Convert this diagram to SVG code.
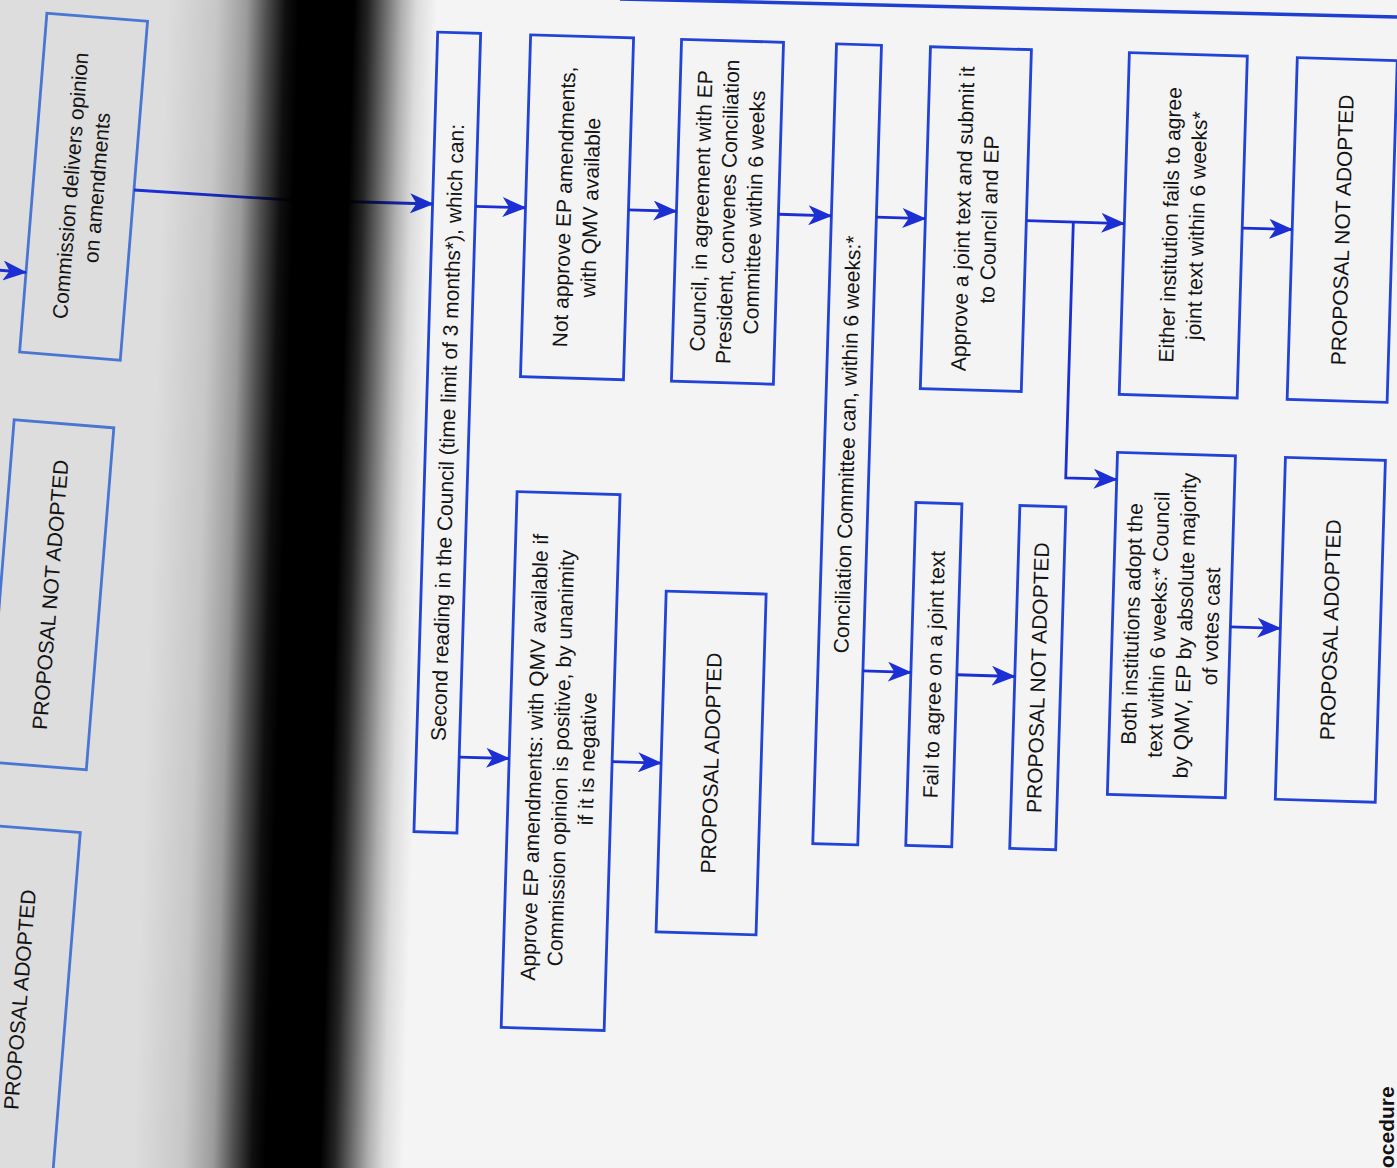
<svg xmlns="http://www.w3.org/2000/svg" width="1397" height="1168" viewBox="0 0 1397 1168">
<style>
.box{fill:none;stroke:#2143d6;stroke-width:2.8}
.lbox{fill:none;stroke:#4876d2;stroke-width:2.8}
.t{font-family:"Liberation Sans",Arial,sans-serif;font-size:21px;fill:#141414;text-anchor:middle}
.conn{fill:none;stroke:#1b2fd2;stroke-width:2.8;marker-end:url(#ah)}
.rule{fill:none;stroke:#1f3fd0;stroke-width:3.5}
</style>
<defs>
<marker id="ah" markerUnits="userSpaceOnUse" markerWidth="24" markerHeight="20" refX="23" refY="10" orient="auto">
<path d="M0,0 L24,10 L0,20 L6.5,10 z" fill="#1b2fd2"/>
</marker>
<linearGradient id="bind" gradientUnits="userSpaceOnUse" x1="150" y1="0" x2="440" y2="0">
<stop offset="0" stop-color="#000" stop-opacity="0"/>
<stop offset="0.172" stop-color="#000" stop-opacity="0.1"/>
<stop offset="0.276" stop-color="#000" stop-opacity="0.3"/>
<stop offset="0.345" stop-color="#000" stop-opacity="0.65"/>
<stop offset="0.41" stop-color="#000" stop-opacity="0.93"/>
<stop offset="0.455" stop-color="#000" stop-opacity="1"/>
<stop offset="0.645" stop-color="#000" stop-opacity="1"/>
<stop offset="0.695" stop-color="#000" stop-opacity="0.85"/>
<stop offset="0.755" stop-color="#000" stop-opacity="0.55"/>
<stop offset="0.81" stop-color="#000" stop-opacity="0.28"/>
<stop offset="0.862" stop-color="#000" stop-opacity="0.1"/>
<stop offset="0.931" stop-color="#000" stop-opacity="0"/>
</linearGradient>
</defs>

<!-- pages -->
<rect x="0" y="0" width="1397" height="1168" fill="#f4f4f4"/>
<rect x="-100" y="-100" width="405" height="1400" fill="#dddddd" transform="rotate(1.67 300 584)"/>

<!-- left page nodes -->
<g transform="rotate(4.6 100 500)">
<g id="commission-opinion">
<rect class="lbox" x="8" y="19" width="101" height="340"/>
<text class="t" transform="translate(58.5 189) rotate(-90)"><tspan x="0" y="-5.85">Commission delivers opinion</tspan><tspan x="0" y="20.65">on amendments</tspan></text>
</g>
<g id="left-not-adopted">
<rect class="lbox" x="8" y="427" width="100" height="343"/>
<text class="t" transform="translate(58 598.5) rotate(-90)"><tspan x="0" y="7.4">PROPOSAL NOT ADOPTED</tspan></text>
</g>
<g id="left-adopted">
<rect class="lbox" x="7" y="833" width="100" height="343"/>
<text class="t" transform="translate(60 1004.5) rotate(-90)"><tspan x="0" y="7.4">PROPOSAL ADOPTED</tspan></text>
</g>
</g>

<!-- right page nodes -->
<line class="rule" x1="620" y1="-1" x2="1400" y2="17"/>
<g transform="rotate(1.7 900 500)">
<g id="second-reading">
<rect class="box" x="424" y="46" width="43" height="800"/>
<text class="t" transform="translate(445.5 446) rotate(-90)"><tspan x="0" y="7.4">Second reading in the Council (time limit of 3 months*), which can:</tspan></text>
</g>
<g id="not-approve">
<rect class="box" x="517" y="46" width="103" height="342"/>
<text class="t" transform="translate(568.5 217) rotate(-90)"><tspan x="0" y="-5.85">Not approve EP amendments,</tspan><tspan x="0" y="20.65">with QMV available</tspan></text>
</g>
<g id="council-convenes">
<rect class="box" x="668" y="46" width="102" height="342"/>
<text class="t" transform="translate(719 217) rotate(-90)"><tspan x="0" y="-19.1">Council, in agreement with EP</tspan><tspan x="0" y="7.4">President, convenes Conciliation</tspan><tspan x="0" y="33.9">Committee within 6 weeks</tspan></text>
</g>
<g id="conciliation">
<rect class="box" x="823" y="46" width="45" height="800"/>
<text class="t" transform="translate(845.5 446) rotate(-90)"><tspan x="0" y="7.4">Conciliation Committee can, within 6 weeks:*</tspan></text>
</g>
<g id="approve-joint">
<rect class="box" x="917" y="46" width="101" height="342"/>
<text class="t" transform="translate(967.5 217) rotate(-90)"><tspan x="0" y="-5.85">Approve a joint text and submit it</tspan><tspan x="0" y="20.65">to Council and EP</tspan></text>
</g>
<g id="either-fails">
<rect class="box" x="1116" y="46" width="118" height="342"/>
<text class="t" transform="translate(1175 217) rotate(-90)"><tspan x="0" y="-5.85">Either institution fails to agree</tspan><tspan x="0" y="20.65">joint text within 6 weeks*</tspan></text>
</g>
<g id="not-adopted-top">
<rect class="box" x="1284" y="46" width="100" height="342"/>
<text class="t" transform="translate(1334 217) rotate(-90)"><tspan x="0" y="7.4">PROPOSAL NOT ADOPTED</tspan></text>
</g>
<g id="approve-ep">
<rect class="box" x="517" y="503" width="103" height="536"/>
<text class="t" transform="translate(568.5 768) rotate(-90)"><tspan x="0" y="-19.1">Approve EP amendments: with QMV available if</tspan><tspan x="0" y="7.4">Commission opinion is positive, by unanimity</tspan><tspan x="0" y="33.9">if it is negative</tspan></text>
</g>
<g id="adopted-mid">
<rect class="box" x="669" y="598" width="100" height="341"/>
<text class="t" transform="translate(719 768.5) rotate(-90)"><tspan x="0" y="7.4">PROPOSAL ADOPTED</tspan></text>
</g>
<g id="fail-agree">
<rect class="box" x="916" y="502" width="46" height="343"/>
<text class="t" transform="translate(939 673.5) rotate(-90)"><tspan x="0" y="7.4">Fail to agree on a joint text</tspan></text>
</g>
<g id="not-adopted-mid">
<rect class="box" x="1020" y="502" width="46" height="343"/>
<text class="t" transform="translate(1043 673.5) rotate(-90)"><tspan x="0" y="7.4">PROPOSAL NOT ADOPTED</tspan></text>
</g>
<g id="both-adopt">
<rect class="box" x="1116" y="446" width="118" height="342"/>
<text class="t" transform="translate(1175 617) rotate(-90)"><tspan x="0" y="-32.35">Both institutions adopt the</tspan><tspan x="0" y="-5.85">text within 6 weeks:* Council</tspan><tspan x="0" y="20.65">by QMV, EP by absolute majority</tspan><tspan x="0" y="47.15">of votes cast</tspan></text>
</g>
<g id="adopted-right">
<rect class="box" x="1284" y="446" width="100" height="342"/>
<text class="t" transform="translate(1334 617) rotate(-90)"><tspan x="0" y="7.4">PROPOSAL ADOPTED</tspan></text>
</g>
</g>

<!-- connectors -->
<g id="connectors">
<g transform="rotate(4.6 100 500)">
<path class="conn" d="M-40,279 L8,279"/>
</g>
<path class="conn" d="M134,190 L290,200 L433,204"/>
<g transform="rotate(1.7 900 500)">
<path class="conn" d="M467,219 L517,219"/>
<path class="conn" d="M620,218 L668,218"/>
<path class="conn" d="M770,218 L823,218"/>
<path class="conn" d="M868,218 L917,218"/>
<path class="conn" d="M1018,217 L1116,217"/>
<path class="conn" d="M1065,217 L1065,473 L1116,473"/>
<path class="conn" d="M1234,218 L1284,218"/>
<path class="conn" d="M467,770 L517,770"/>
<path class="conn" d="M620,770 L669,770"/>
<path class="conn" d="M868,672 L916,672"/>
<path class="conn" d="M962,673 L1020,673"/>
<path class="conn" d="M1234,617 L1284,617"/>
</g>
</g>

<!-- binding shadow -->
<rect x="150" y="-100" width="290" height="1400" fill="url(#bind)" transform="rotate(1.67 300 584)"/>

<text transform="translate(1394 1168) rotate(-90)" style="font-family:'Liberation Sans',Arial,sans-serif;font-size:21px;font-weight:bold;fill:#111">ocedure</text>
</svg>
